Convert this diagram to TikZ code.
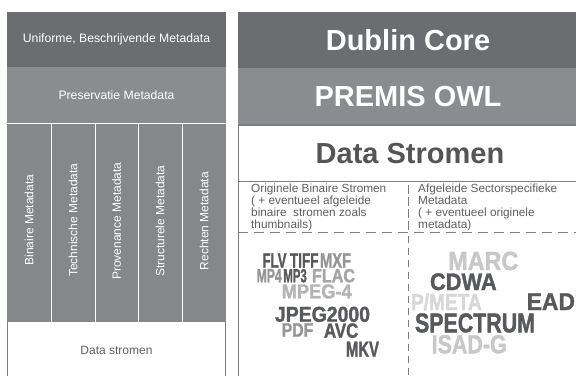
\documentclass[tikz,border=0pt]{standalone}
\usepackage{fontspec}
\usepackage{graphicx}
\setmainfont{Liberation Sans}
\newfontfamily\cloudfont{Liberation Sans}[BoldFeatures={FakeBold=1.6}]
\definecolor{darkband}{RGB}{108,109,112}
\definecolor{midband}{RGB}{139,140,143}
\definecolor{colband}{RGB}{134,135,138}
\definecolor{linegray}{RGB}{125,125,125}
\definecolor{txtgray}{RGB}{95,95,95}
\definecolor{bigtxt}{RGB}{85,85,87}
\definecolor{cdark}{RGB}{88,89,91}
\definecolor{cg150}{RGB}{150,150,150}
\definecolor{cg165}{RGB}{165,165,165}
\definecolor{cg180}{RGB}{180,180,180}
\definecolor{cg200}{RGB}{200,200,200}
\definecolor{cg215}{RGB}{215,215,215}
\tikzset{
  box/.style={inner sep=0pt, outer sep=0pt, minimum width=#1},
  smallwhite/.style={text=white, font=\fontsize{12.2}{14}\selectfont},
  colwhite/.style={text=white, font=\fontsize{12}{14}\selectfont},
  bigtitle/.style={text=white, font=\fontsize{29}{34}\selectfont\bfseries},
  smalltext/.style={text=txtgray, font=\fontsize{11.8}{12}\selectfont, align=left, anchor=north west, inner sep=0pt},
  cloudw/.style={inner sep=0pt, outer sep=0pt, anchor=north west, font=\cloudfont\bfseries},
  divider/.style={draw=white, line width=1pt},
  frame/.style={draw=linegray, line width=0.8pt},
}
\newcommand\cloudword[7]{\node[cloudw, text=#6] (#7) at (#1,#2) {\resizebox{#3pt}{#4pt}{#5}};}
\begin{document}
\begin{tikzpicture}[x=1pt,y=-1pt]
\useasboundingbox[fill=white] (0,0) rectangle (576,376);
% ---------- left panel ----------
\node[box=219pt, minimum height=55pt, fill=darkband, smallwhite] (uni) at (116.5,39.5) {Uniforme, Beschrijvende Metadata};
\node[box=219pt, minimum height=56pt, fill=midband, smallwhite] (pres) at (116.5,95) {Preservatie Metadata};
\fill[colband] (7,123) rectangle (226,322);
\node[colwhite, rotate=90] (c1) at (29,220) {Binaire Metadata};
\node[colwhite, rotate=90] (c2) at (73,220) {Technische Metadata};
\node[colwhite, rotate=90] (c3) at (116.5,221) {Provenance Metadata};
\node[colwhite, rotate=90] (c4) at (160,221) {Structurele Metadata};
\node[colwhite, rotate=90] (c5) at (204,221) {Rechten Metadata};
\draw[divider] (7,123) -- (226,123);
\foreach \xx in {51,95,138,182} \draw[divider] (\xx,123) -- (\xx,322);
\draw[frame] (7,322) -- (7,376) (225.5,322) -- (225.5,376);
\node[text=txtgray, font=\fontsize{12}{14}\selectfont] (ds) at (116.5,350) {Data stromen};
% ---------- right panel ----------
\node[box=340pt, minimum height=56pt, fill=darkband, bigtitle] (dc) at (408,40) {Dublin Core};
\node[box=340pt, minimum height=57pt, fill=midband, bigtitle] (premis) at (408,96.5) {PREMIS OWL};
\node[text=bigtxt, font=\fontsize{29}{34}\selectfont\bfseries] (dstr) at (410,153.5) {Data Stromen};
\draw[draw=linegray, line width=1.2pt] (238,125) -- (577,125);
\draw[frame] (238.5,125) -- (238.5,376);
\draw[frame] (238,181.5) -- (577,181.5);
\node[smalltext] (orig) at (251,184) {Originele Binaire Stromen\\( + eventueel afgeleide\\binaire\ \ stromen zoals\\thumbnails)};
\node[smalltext] (afg) at (418,184) {Afgeleide Sectorspecifieke\\Metadata\\( + eventueel originele\\metadata)};
\draw[draw=linegray, line width=0.8pt, dash pattern=on 9pt off 3pt] (408,185) -- (408,232);
\draw[draw=linegray, line width=0.8pt, dash pattern=on 10pt off 6pt] (238,232.5) -- (577,232.5);
\draw[draw=linegray, line width=0.8pt, dash pattern=on 7pt off 5pt] (408,236) -- (408,376);
% ---------- word cloud left ----------
\cloudword{262.5}{253.3}{24}{14.4}{FLV}{cdark}{wflv}
\cloudword{290}{253.3}{28.5}{14.4}{TIFF}{cdark}{wtiff}
\cloudword{320}{253.3}{31}{14.4}{MXF}{cg150}{wmxf}
\cloudword{256.7}{269}{25}{13.3}{MP4}{cg150}{wmp4}
\cloudword{283.3}{269}{23.5}{13.3}{MP3}{cdark}{wmp3}
\cloudword{312}{269}{43}{13.3}{FLAC}{cg165}{wflac}
\cloudword{281.7}{284.3}{70}{14}{MPEG-4}{cg180}{wmpeg}
\cloudword{275}{306.7}{95}{15}{JPEG2000}{cdark}{wjpeg}
\cloudword{281.7}{323.3}{31.6}{13.4}{PDF}{cg150}{wpdf}
\cloudword{324}{323.3}{34.3}{14.4}{AVC}{cdark}{wavc}
\cloudword{346}{341.7}{33}{15}{MKV}{cdark}{wmkv}
% ---------- word cloud right ----------
\cloudword{448.3}{251.7}{70}{18.3}{MARC}{cg200}{wmarc}
\cloudword{430}{273.3}{66.7}{16.7}{CDWA}{cdark}{wcdwa}
\cloudword{411}{293.3}{70.7}{16.7}{P/META}{cg215}{wpmeta}
\cloudword{526.7}{293.3}{48.3}{16.7}{EAD}{cdark}{wead}
\cloudword{415}{313.3}{120}{19}{SPECTRUM}{cdark}{wspec}
\cloudword{431.7}{335}{75}{18.3}{ISAD-G}{cg200}{wisad}
\end{tikzpicture}
\end{document}
